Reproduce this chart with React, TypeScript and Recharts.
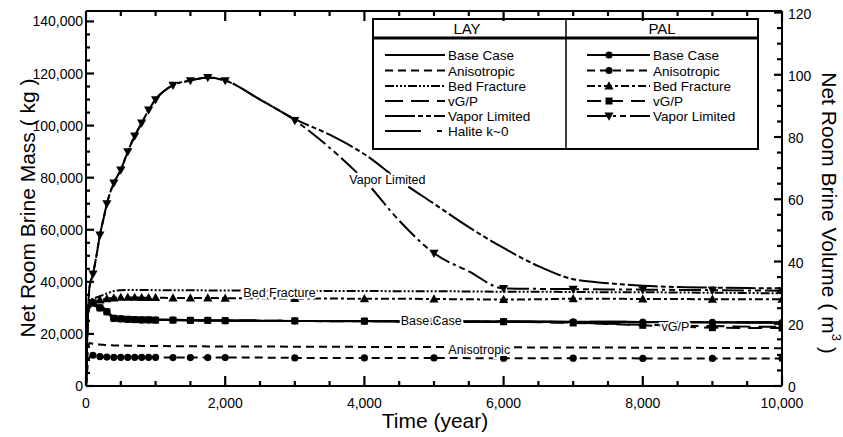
import React from "react";
import { LineChart, Line, XAxis, YAxis, ReferenceDot } from "recharts";

// time in years
const TIME = [0, 25, 50, 100, 150, 200, 250, 300, 350, 400, 500, 600, 700, 800, 900, 1000, 1250, 1500, 1750, 2000, 2500, 3000, 3500, 4000, 4500, 5000, 5500, 6000, 6500, 7000, 7500, 8000, 8500, 9000, 9500, 10000];

// net room brine mass (kg), LAY runs
const LAY_BASE = [0, 27000, 30500, 31500, 31000, 30500, 30000, 29000, 27500, 26500, 26000, 25800, 25700, 25600, 25500, 25500, 25400, 25300, 25200, 25200, 25100, 25000, 25000, 25000, 24900, 24900, 24800, 24800, 24800, 24700, 24700, 24600, 24600, 24500, 24500, 24500];
const LAY_ANISO = [0, 13000, 16500, 16200, 16000, 15900, 15800, 15700, 15700, 15600, 15600, 15500, 15500, 15400, 15400, 15400, 15300, 15300, 15200, 15200, 15200, 15100, 15100, 15000, 15000, 15000, 14900, 14900, 14800, 14800, 14800, 14700, 14700, 14600, 14600, 14500];
const LAY_BF = [0, 28000, 33000, 33500, 34000, 34500, 35000, 35500, 36000, 36500, 36800, 36900, 36900, 36900, 36900, 36800, 36800, 36800, 36700, 36700, 36600, 36600, 36500, 36500, 36400, 36400, 36300, 36200, 36200, 36100, 36000, 36000, 35900, 35800, 35700, 35600];
const LAY_VGP = [0, 27000, 30500, 31500, 31000, 30500, 30000, 29000, 27500, 26500, 26000, 25800, 25700, 25600, 25500, 25500, 25400, 25300, 25200, 25200, 25100, 25000, 25000, 25000, 24900, 24900, 24800, 24800, 24600, 24300, 23900, 23500, 23200, 23000, 22800, 22700];
const LAY_VL = [0, 25000, 38000, 43000, 50000, 58000, 64000, 70000, 74500, 78000, 83000, 90000, 96000, 101000, 106000, 110000, 115500, 117300, 118500, 117300, 110000, 102500, 96500, 89000, 79000, 70000, 61000, 53000, 46000, 41000, 39500, 38500, 38000, 37800, 37600, 37500];
const LAY_HALITE = [0, 26000, 30000, 31000, 30500, 30000, 29500, 28500, 27000, 26300, 25900, 25700, 25600, 25500, 25500, 25400, 25300, 25300, 25200, 25100, 25100, 25000, 25000, 24900, 24900, 24900, 24800, 24800, 24700, 24700, 24700, 24600, 24600, 24600, 24500, 24500];

// PAL runs
const PAL_BASE = [0, 29000, 32000, 32000, 31000, 30000, 29500, 28500, 27000, 26000, 25800, 25600, 25500, 25400, 25400, 25300, 25300, 25200, 25200, 25100, 25000, 25000, 24900, 24900, 24800, 24800, 24700, 24700, 24600, 24600, 24500, 24500, 24400, 24400, 24300, 24300];
const PAL_ANISO = [0, 8000, 11000, 11800, 11500, 11300, 11200, 11100, 11100, 11000, 11000, 11000, 11000, 11000, 11000, 11000, 10900, 10900, 10900, 10900, 10900, 10800, 10800, 10800, 10800, 10800, 10700, 10700, 10700, 10700, 10700, 10600, 10600, 10600, 10600, 10600];
const PAL_BF = [0, 27000, 31000, 32000, 32500, 33000, 33300, 33500, 33700, 33800, 34000, 34000, 34000, 33900, 33900, 33900, 33800, 33800, 33800, 33700, 33700, 33600, 33600, 33500, 33500, 33400, 33300, 33200, 33300, 33500, 33500, 33400, 33400, 33300, 33300, 33300];
const PAL_VGP = [0, 29000, 32000, 32000, 31000, 30000, 29500, 28500, 27000, 26000, 25800, 25600, 25500, 25400, 25400, 25300, 25300, 25200, 25200, 25100, 25000, 25000, 24900, 24900, 24800, 24800, 24700, 24700, 24500, 24200, 23800, 23300, 22800, 22400, 22300, 22300];
const PAL_VL = [0, 25000, 38000, 43000, 50000, 58000, 64000, 70000, 74500, 78000, 83000, 90000, 96000, 101000, 106000, 110000, 115500, 117300, 118500, 117300, 110000, 102000, 91500, 79000, 63500, 51000, 44000, 37500, 37300, 37200, 37100, 37000, 36900, 36800, 36700, 36600];

// output times where PAL symbols are plotted
const MARKER_TIMES = [100, 200, 300, 400, 500, 600, 700, 800, 900, 1000, 1250, 1500, 1750, 2000, 3000, 4000, 5000, 6000, 7000, 8000, 9000, 10000];

// axis ticks (minor every 500 yr / 5,000 kg / 5 m3)
const X_TICKS = Array.from({ length: 21 }, (_, i) => i * 500);
const MASS_TICKS = Array.from({ length: 29 }, (_, i) => i * 5000);
const VOLUME_TICKS = Array.from({ length: 25 }, (_, i) => i * 5);

const FONT = "'Liberation Sans', Arial, Helvetica, sans-serif";

const rows = TIME.map((t, i) => ({
  t,
  layBase: LAY_BASE[i],
  layAniso: LAY_ANISO[i],
  layBf: LAY_BF[i],
  layVgp: LAY_VGP[i],
  layVl: LAY_VL[i],
  layHalite: LAY_HALITE[i],
  palBase: PAL_BASE[i],
  palAniso: PAL_ANISO[i],
  palBf: PAL_BF[i],
  palVgp: PAL_VGP[i],
  palVl: PAL_VL[i],
}));

type Kind = "circle" | "triangle" | "square" | "down" | null;

const LAY_SERIES = [
  { key: "layBase", name: "Base Case", dash: undefined },
  { key: "layAniso", name: "Anisotropic", dash: "8 5" },
  { key: "layBf", name: "Bed Fracture", dash: "9 2 2 2 2 2 2 2" },
  { key: "layVgp", name: "vG/P", dash: "18 8" },
  { key: "layVl", name: "Vapor Limited", dash: "30 3 5 3 5 3" },
  { key: "layHalite", name: "Halite k~0", dash: "36 16 5 16" },
];

const PAL_SERIES: { key: string; name: string; dash?: string; marker: Kind }[] = [
  { key: "palBase", name: "Base Case", dash: undefined, marker: "circle" },
  { key: "palAniso", name: "Anisotropic", dash: "8 5", marker: "circle" },
  { key: "palBf", name: "Bed Fracture", dash: "8 3 3 3", marker: "triangle" },
  { key: "palVgp", name: "vG/P", dash: "14 8", marker: "square" },
  { key: "palVl", name: "Vapor Limited", dash: "22 4 3 4 6 4", marker: "down" },
];

function Marker({ kind, cx, cy }: { kind: Kind; cx: number; cy: number }) {
  if (kind === "circle") return <circle cx={cx} cy={cy} r={3.6} fill="#000" />;
  if (kind === "square") return <rect x={cx - 3.5} y={cy - 3.5} width={7} height={7} fill="#000" />;
  if (kind === "triangle")
    return <path d={`M${cx},${cy - 4.8} L${cx + 4.6},${cy + 3.4} L${cx - 4.6},${cy + 3.4} Z`} fill="#000" />;
  if (kind === "down")
    return <path d={`M${cx},${cy + 4.8} L${cx + 4.6},${cy - 3.4} L${cx - 4.6},${cy - 3.4} Z`} fill="#000" />;
  return null;
}

const makeDot = (kind: Kind) => (props: any) => {
  const { cx, cy, payload, index } = props;
  if (cx == null || cy == null || !MARKER_TIMES.includes(payload.t)) return <g key={index} />;
  return (
    <g key={index}>
      <Marker kind={kind} cx={cx} cy={cy} />
    </g>
  );
};

const fmt = (v: number) => v.toLocaleString("en-US");
const TICK_W = 2.2;

function BottomTick(props: any) {
  const { x, y, payload } = props;
  const v = payload.value;
  const major = v % 2000 === 0;
  return (
    <g>
      <path d={`M${x},${y} L${x},${y - (major ? 10 : 5)}`} stroke="#000" strokeWidth={TICK_W} />
      {major && (
        <text x={x} y={y + 22} textAnchor="middle" fontSize={14} fontFamily={FONT} fill="#000">
          {fmt(v)}
        </text>
      )}
    </g>
  );
}

function TopTick(props: any) {
  const { x, y, payload } = props;
  const major = payload.value % 2000 === 0;
  return <path d={`M${x},${y} L${x},${y + (major ? 10 : 5)}`} stroke="#000" strokeWidth={TICK_W} />;
}

function LeftTick(props: any) {
  const { x, y, payload } = props;
  const v = payload.value;
  const major = v % 20000 === 0;
  return (
    <g>
      <path d={`M${x},${y} L${x + (major ? 8 : 4)},${y}`} stroke="#000" strokeWidth={TICK_W} />
      {major && (
        <text x={x - 3} y={y + 5} textAnchor="end" fontSize={14} fontFamily={FONT} fill="#000">
          {fmt(v)}
        </text>
      )}
    </g>
  );
}

function RightTick(props: any) {
  const { x, y, payload } = props;
  const v = payload.value;
  const major = v % 20 === 0;
  return (
    <g>
      <path d={`M${x},${y} L${x - (major ? 8 : 5)},${y}`} stroke="#000" strokeWidth={TICK_W} />
      {major && (
        <text x={x + 6} y={y + 6} textAnchor="start" fontSize={14} fontFamily={FONT} fill="#000">
          {v}
        </text>
      )}
    </g>
  );
}

const AXIS_LINE = { stroke: "#000", strokeWidth: 2 };

const plotLabel = (text: string) => (props: any) => {
  const vb = props.viewBox || {};
  return (
    <text
      x={vb.x + (vb.width || 0) / 2}
      y={vb.y + (vb.height || 0) / 2 + 4}
      textAnchor="middle"
      fontSize={12.5}
      fontFamily={FONT}
      fill="#000"
      stroke="#fff"
      strokeWidth={4}
      paintOrder="stroke"
    >
      {text}
    </text>
  );
};

// in-plot curve labels, placed at (time, mass)
const CURVE_LABELS = [
  { text: "Vapor Limited", t: 4330, v: 79000 },
  { text: "Bed Fracture", t: 2780, v: 35700 },
  { text: "Base Case", t: 4960, v: 25000 },
  { text: "vG/P", t: 8470, v: 22700 },
  { text: "Anisotropic", t: 5650, v: 13800 },
];

function LegendTable() {
  const rowY = [55, 70.5, 86, 101, 116, 131];
  return (
    <g fontFamily={FONT} fill="#000">
      <rect x={373} y={19} width={385} height={130} fill="#fff" stroke="#000" strokeWidth={2} />
      <line x1={373} x2={758} y1={38} y2={38} stroke="#000" strokeWidth={3} />
      <line x1={566} x2={566} y1={19} y2={149} stroke="#000" strokeWidth={1.5} />
      <text x={467} y={34} textAnchor="middle" fontSize={15}>LAY</text>
      <text x={662} y={34} textAnchor="middle" fontSize={15}>PAL</text>
      {LAY_SERIES.map((s, i) => (
        <g key={s.key}>
          <line x1={385} x2={445} y1={rowY[i]} y2={rowY[i]} stroke="#000" strokeWidth={2} strokeDasharray={s.dash} />
          <text x={448} y={rowY[i] + 5} fontSize={13.5}>{s.name}</text>
        </g>
      ))}
      {PAL_SERIES.map((s, i) => (
        <g key={s.key}>
          <line x1={587} x2={650} y1={rowY[i]} y2={rowY[i]} stroke="#000" strokeWidth={2} strokeDasharray={s.dash} />
          <Marker kind={s.marker} cx={609} cy={rowY[i]} />
          <text x={653} y={rowY[i] + 5} fontSize={13.5}>{s.name}</text>
        </g>
      ))}
    </g>
  );
}

function AxisTitles() {
  return (
    <g fontFamily={FONT} fill="#000" fontSize={21}>
      <text transform="translate(27,208) rotate(-90)" textAnchor="middle" dominantBaseline="central">
        Net Room Brine Mass ( kg )
      </text>
      <text transform="translate(829,213) rotate(90)" textAnchor="middle" dominantBaseline="central">
        Net Room Brine Volume ( m<tspan dy={-8} fontSize={13}>3</tspan>
        <tspan dy={8}> )</tspan>
      </text>
      <text x={435} y={428} textAnchor="middle">Time (year)</text>
    </g>
  );
}

export default function App() {
  return (
    <div style={{ position: "absolute", left: 0, top: 0, width: 843, height: 437, background: "#fff" }}>
      <LineChart width={843} height={437} data={rows} margin={{ top: 10, right: 0, bottom: 0, left: 0 }}>
        <XAxis
          dataKey="t"
          type="number"
          domain={[0, 10000]}
          allowDataOverflow
          ticks={X_TICKS}
          interval={0}
          height={51}
          tickSize={0}
          tickMargin={0}
          tick={<BottomTick />}
          axisLine={AXIS_LINE}
        />
        <XAxis
          xAxisId="top"
          orientation="top"
          dataKey="t"
          type="number"
          domain={[0, 10000]}
          allowDataOverflow
          ticks={X_TICKS}
          interval={0}
          height={1}
          tickSize={0}
          tickMargin={0}
          tick={<TopTick />}
          axisLine={AXIS_LINE}
        />
        <YAxis
          yAxisId="left"
          type="number"
          domain={[0, 144000]}
          allowDataOverflow
          ticks={MASS_TICKS}
          interval={0}
          width={86}
          tickSize={0}
          tickMargin={0}
          tick={<LeftTick />}
          axisLine={AXIS_LINE}
        />
        <YAxis
          yAxisId="right"
          orientation="right"
          type="number"
          domain={[0, 120.5]}
          allowDataOverflow
          ticks={VOLUME_TICKS}
          interval={0}
          width={61}
          tickSize={0}
          tickMargin={0}
          tick={<RightTick />}
          axisLine={AXIS_LINE}
        />
        {LAY_SERIES.map((s) => (
          <Line
            key={s.key}
            yAxisId="left"
            dataKey={s.key}
            type="monotone"
            stroke="#000"
            strokeWidth={2}
            strokeDasharray={s.dash}
            dot={false}
            activeDot={false}
            isAnimationActive={false}
          />
        ))}
        {PAL_SERIES.map((s) => (
          <Line
            key={s.key}
            yAxisId="left"
            dataKey={s.key}
            type="monotone"
            stroke="#000"
            strokeWidth={2}
            strokeDasharray={s.dash}
            dot={makeDot(s.marker)}
            activeDot={false}
            isAnimationActive={false}
          />
        ))}
        {CURVE_LABELS.map((l) => (
          <ReferenceDot
            key={l.text}
            yAxisId="left"
            x={l.t}
            y={l.v}
            r={0.5}
            fill="none"
            stroke="none"
            label={plotLabel(l.text)}
          />
        ))}
        <LegendTable />
        <AxisTitles />
      </LineChart>
    </div>
  );
}
